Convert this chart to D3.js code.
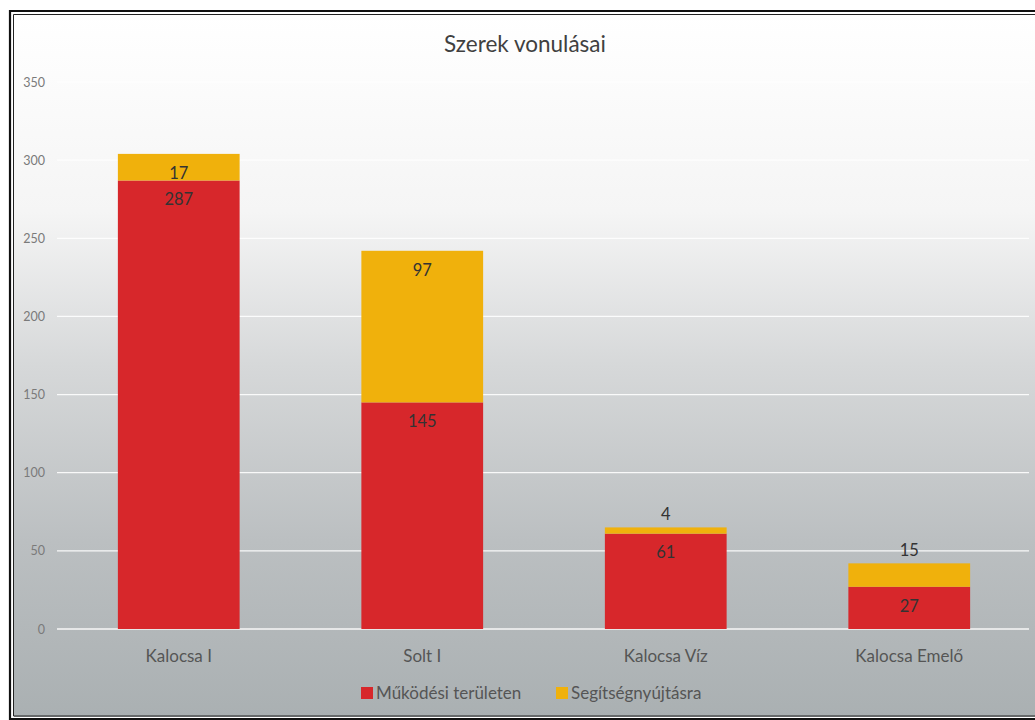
<!DOCTYPE html>
<html>
<head>
<meta charset="utf-8">
<script src="https://cdn.jsdelivr.net/npm/d3@7"></script>
<style>
  html, body { margin: 0; padding: 0; background: #ffffff; }
  svg { display: block; }
  text { font-family: Lato, "Open Sans", sans-serif; }
</style>
</head>
<body>
<svg id="chart" width="1035" height="720"></svg>
<script>
const categories = ["Kalocsa I", "Solt I", "Kalocsa Víz", "Kalocsa Emelő"];
const seriesNames = ["Működési területen", "Segítségnyújtásra"];
const mukodesi = [287, 145, 61, 27];
const segitseg = [17, 97, 4, 15];
const yTicks = [0, 50, 100, 150, 200, 250, 300, 350];
const colors = ["#d7272b", "#f0b10c"];
const title = "Szerek vonulásai";

const svg = d3.select("#chart");
const W = 1035, H = 720;

// background gradient
const defs = svg.append("defs");
const grad = defs.append("linearGradient").attr("id", "bg").attr("x1", 0).attr("y1", 0).attr("x2", 0).attr("y2", 1);
[[0, "#ffffff"], [0.28, "#f5f5f5"], [0.5, "#d6d8d9"], [0.75, "#bbbfc1"], [1, "#aab0b2"]]
  .forEach(([o, c]) => grad.append("stop").attr("offset", o).attr("stop-color", c));

svg.append("rect").attr("x", 14).attr("y", 15).attr("width", W - 14).attr("height", H - 18).attr("fill", "url(#bg)");

// border (double line)
svg.append("path").attr("d", `M${W},11 H10 V719 H${W}`).attr("fill", "none").attr("stroke", "#111").attr("stroke-width", 2.2);
svg.append("path").attr("d", `M${W},14.5 H13.5 V716 H${W}`).attr("fill", "none").attr("stroke", "#222").attr("stroke-width", 1);

const margin = { left: 57, right: 4 };
const x = d3.scaleBand().domain(categories).range([margin.left, W - margin.right]).paddingInner(0.5).paddingOuter(0.25);
const y = d3.scaleLinear().domain([0, 350]).range([629, 82]);

// gridlines
svg.append("g").selectAll("line").data(yTicks).join("line")
  .attr("x1", margin.left).attr("x2", W - 6)
  .attr("y1", d => y(d)).attr("y2", d => y(d))
  .attr("stroke", "#ffffff").attr("stroke-width", 1.3).attr("opacity", 0.9);

// y axis labels
const yAxis = d3.axisLeft(y).tickValues(yTicks).tickSize(0).tickPadding(0);
const gy = svg.append("g").attr("transform", "translate(45,0)").call(yAxis);
gy.select(".domain").remove();
gy.selectAll("text").attr("font-size", 12.5).attr("fill", "#7a7a7a").attr("text-anchor", "end")
  .style("font-family", "Lato, sans-serif");

// x axis labels
const xAxis = d3.axisBottom(x).tickSize(0).tickPadding(0);
const gx = svg.append("g").attr("transform", "translate(0,650)").call(xAxis);
gx.select(".domain").remove();
gx.selectAll("text").attr("font-size", 17).attr("fill", "#555555").style("font-family", "Lato, sans-serif");

// stacked data
const rows = categories.map((c, i) => ({ cat: c, a: mukodesi[i], b: segitseg[i] }));
const stack = d3.stack().keys(["a", "b"]);
const stacked = stack(rows);

const groups = svg.append("g").selectAll("g").data(stacked).join("g").attr("fill", (d, i) => colors[i]);
groups.selectAll("rect").data(d => d).join("rect")
  .attr("x", d => x(d.data.cat))
  .attr("width", x.bandwidth())
  .attr("y", d => y(d[1]))
  .attr("height", d => y(d[0]) - y(d[1]));

// labels
const labels = svg.append("g");
stacked.forEach((s, si) => {
  s.forEach(d => {
    const val = d[1] - d[0];
    const top = y(d[1]);
    const h = y(d[0]) - top;
    const ly = h >= 25 ? top + 19 : top - 13;
    labels.append("text")
      .attr("x", x(d.data.cat) + x.bandwidth() / 2)
      .attr("y", ly)
      .attr("dy", "0.35em")
      .attr("text-anchor", "middle")
      .attr("font-size", 16.5)
      .attr("fill", "#333333")
      .text(val);
  });
});

// title
svg.append("text").attr("x", 525).attr("y", 44).attr("dy", "0.35em").attr("text-anchor", "middle")
  .attr("font-size", 22.5).attr("fill", "#404040").text(title);

// legend
const legendItems = [{ name: seriesNames[0], color: colors[0], x: 361 }, { name: seriesNames[1], color: colors[1], x: 556 }];
const lg = svg.append("g");
legendItems.forEach(it => {
  lg.append("rect").attr("x", it.x).attr("y", 687).attr("width", 12).attr("height", 12).attr("fill", it.color);
  lg.append("text").attr("x", it.x + 15).attr("y", 693).attr("dy", "0.35em").attr("font-size", 17).attr("fill", "#555555").text(it.name);
});
</script>
</body>
</html>
